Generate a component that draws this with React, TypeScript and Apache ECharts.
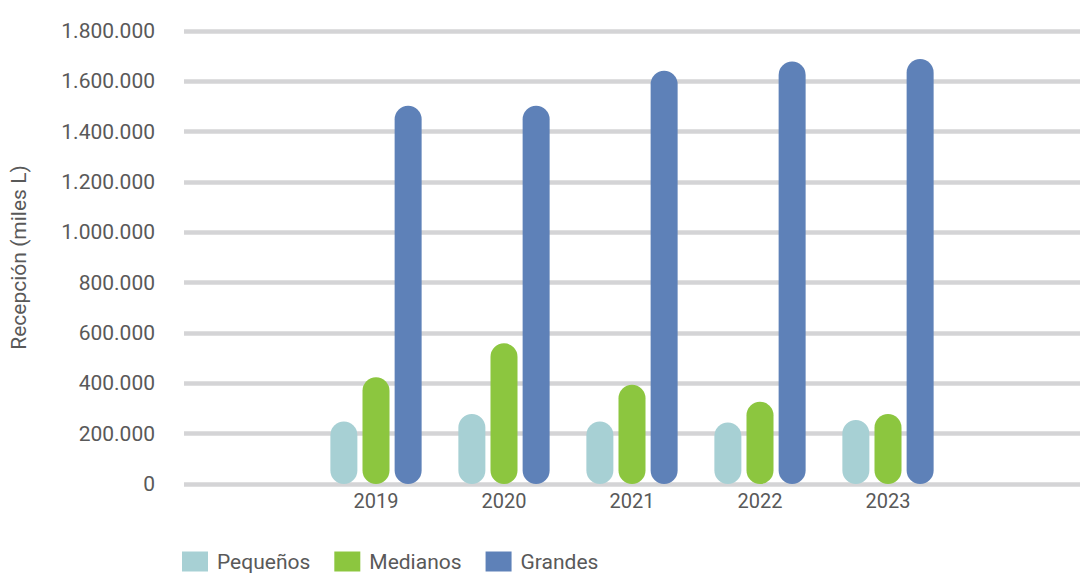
import React, { useEffect, useRef } from "react";
import * as echarts from "echarts";

const years = ["2019", "2020", "2021", "2022", "2023"];
const pequenos = [248000, 278000, 248000, 244000, 254000];
const medianos = [424000, 559000, 394000, 327000, 278000];
const grandes = [1503000, 1503000, 1642000, 1679000, 1689000];
const seriesNames = ["Pequeños", "Medianos", "Grandes"];
const yTicks = { min: 0, max: 1800000, interval: 200000 };

const colors = ["#A7D0D4", "#8CC63F", "#5E81B8"];
const textColor = "#595959";
const font = "Roboto, 'Noto Sans', sans-serif";

function fmt(v: number): string {
  return String(Math.round(v)).replace(/\B(?=(\d{3})+(?!\d))/g, ".");
}

export default function App() {
  const ref = useRef<HTMLDivElement>(null);
  useEffect(() => {
    if (!ref.current) return;
    const chart = echarts.init(ref.current, undefined, { renderer: "svg" });
    const cats = ["", ...years, ""];
    const pad = (arr: number[]) => [null, ...arr, null];
    const all = [pequenos, medianos, grandes];
    chart.setOption({
      animation: false,
      textStyle: { fontFamily: font },
      grid: { left: 184, right: -3, top: 31, bottom: 89, containLabel: false },
      legend: {
        left: 177,
        top: 546,
        itemWidth: 26,
        itemHeight: 20,
        itemGap: 24,
        icon: "rect",
        textStyle: { fontSize: 21, color: textColor, fontFamily: font, padding: [3, 0, 0, 4] },
        data: seriesNames,
      },
      xAxis: {
        type: "category",
        data: cats,
        axisLine: { show: false },
        axisTick: { show: false },
        axisLabel: { fontSize: 20, color: textColor, margin: 7, fontFamily: font, interval: 0 },
      },
      yAxis: {
        type: "value",
        min: yTicks.min,
        max: yTicks.max,
        interval: yTicks.interval,
        name: "Recepción (miles L)",
        nameLocation: "middle",
        nameGap: 155,
        nameTextStyle: { fontSize: 21, color: textColor, fontFamily: font },
        axisLine: { show: false },
        axisTick: { show: false },
        axisLabel: {
          fontSize: 21,
          color: textColor,
          margin: 29,
          fontFamily: font,
          padding: [0, 0, 8, 0],
          formatter: (v: number) => fmt(v),
        },
        splitLine: { show: true, lineStyle: { color: "#D4D4D6", width: 4.5 } },
      },
      series: seriesNames.map((n, i) => ({
        name: n,
        type: "bar",
        data: pad(all[i]),
        barWidth: 27,
        barGap: "19%",
        itemStyle: { color: colors[i], borderRadius: 13.5 },
      })),
    });
    return () => chart.dispose();
  }, []);
  return (
    <div
      ref={ref}
      style={{ position: "fixed", left: 0, top: 0, width: 1080, height: 573, background: "#fff" }}
    />
  );
}
